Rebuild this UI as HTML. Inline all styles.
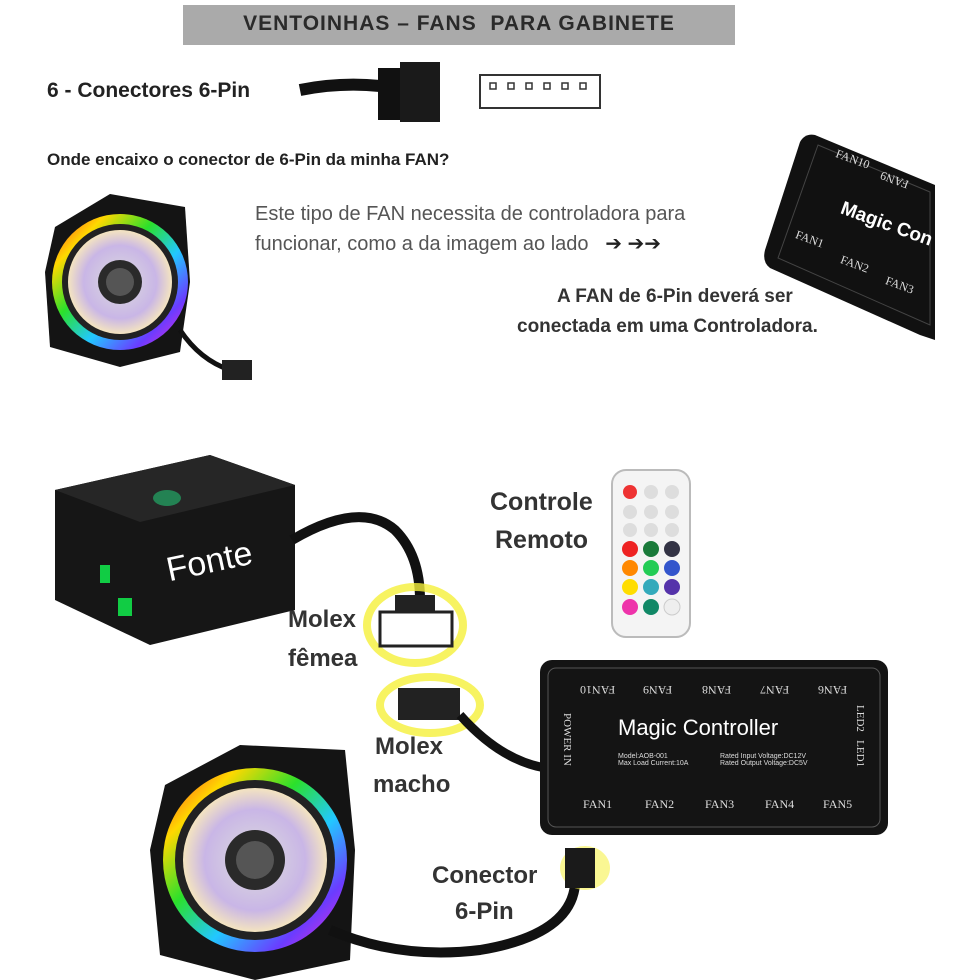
<!DOCTYPE html>
<html><head><meta charset="utf-8"><style>
html,body{margin:0;padding:0;background:#fff;width:980px;height:980px;overflow:hidden;font-family:"Liberation Sans",sans-serif}
.t{position:absolute;white-space:nowrap}
.b{font-weight:bold;color:#333}
.f{position:absolute;font-size:12px;color:#ddd;font-family:"Liberation Serif",serif;white-space:nowrap}
.u{transform:rotate(180deg)}
</style></head><body>
<svg width="980" height="980" style="position:absolute;left:0;top:0">
<defs>
<linearGradient id="rgb" x1="0" y1="0" x2="1" y2="1">
<stop offset="0" stop-color="#ff2a2a"/><stop offset="0.2" stop-color="#ffd800"/><stop offset="0.4" stop-color="#2be02b"/><stop offset="0.6" stop-color="#22c8ff"/><stop offset="0.8" stop-color="#6a3cff"/><stop offset="1" stop-color="#ff2ad4"/>
</linearGradient>
<radialGradient id="inner" cx="0.5" cy="0.5" r="0.5"><stop offset="0" stop-color="#ddd"/><stop offset="0.7" stop-color="#c9b6e6"/><stop offset="1" stop-color="#f4e4c0"/></radialGradient>
</defs>
<rect x="183" y="5" width="552" height="40" fill="#aaa"/>
<path d="M300 90 Q340 82 380 86" stroke="#111" stroke-width="12" fill="none"/>
<rect x="378" y="68" width="22" height="52" fill="#111"/>
<rect x="400" y="62" width="40" height="60" fill="#1a1a1a"/>
<rect x="480" y="75" width="120" height="33" fill="none" stroke="#333" stroke-width="2"/>
<g fill="none" stroke="#333" stroke-width="1.5"><rect x="490" y="83" width="6" height="6"/><rect x="508" y="83" width="6" height="6"/><rect x="526" y="83" width="6" height="6"/><rect x="544" y="83" width="6" height="6"/><rect x="562" y="83" width="6" height="6"/><rect x="580" y="83" width="6" height="6"/></g>
<g transform="translate(120,282)">
<path d="M-65 -55 L-10 -88 L65 -75 L70 0 L60 70 L0 85 L-70 65 L-75 -10Z" fill="#141414"/>
<circle r="68" fill="url(#rgb)"/><circle r="58" fill="#222"/><circle r="52" fill="url(#inner)"/><circle r="22" fill="#2a2a2a"/><circle r="14" fill="#555"/>
</g>
<path d="M180 330 Q200 360 230 370" stroke="#111" stroke-width="5" fill="none"/><rect x="222" y="360" width="30" height="20" fill="#222"/>
<!-- top controller -->
<path d="M815 135 L935 185 L935 340 L920 335 L770 268 Q762 262 765 250 L800 142 Q805 133 815 135Z" fill="#111"/>
<path d="M818 145 L930 192 L930 325 L778 258 Z" fill="none" stroke="#444" stroke-width="1"/>
<path d="M765 795 Z" fill="none"/>
<path d="M55 490 L210 455 L295 485 L295 610 L150 645 L55 600Z" fill="#161616"/>
<path d="M55 490 L210 455 L295 485 L140 522Z" fill="#262626"/>
<ellipse cx="167" cy="498" rx="14" ry="8" fill="#2a6" opacity="0.7"/>
<rect x="100" y="565" width="10" height="18" fill="#1c4"/><rect x="118" y="598" width="14" height="18" fill="#1c4"/>
<path d="M292 540 Q360 500 395 530 Q420 555 420 600" stroke="#111" stroke-width="10" fill="none"/>
<ellipse cx="415" cy="625" rx="48" ry="38" fill="none" stroke="#f5f03a" stroke-width="8" opacity="0.8"/>
<ellipse cx="430" cy="705" rx="50" ry="28" fill="none" stroke="#f5f03a" stroke-width="8" opacity="0.8"/>
<rect x="395" y="595" width="40" height="20" fill="#222"/><rect x="380" y="612" width="72" height="34" fill="#fff" stroke="#222" stroke-width="3"/>
<rect x="398" y="688" width="62" height="32" fill="#222"/>
<path d="M460 715 Q500 760 545 768" stroke="#111" stroke-width="9" fill="none"/>
<rect x="612" y="470" width="78" height="167" rx="14" fill="#f4f4f4" stroke="#bbb" stroke-width="2"/>
<g>
<circle cx="630" cy="492" r="7" fill="#e33"/><circle cx="651" cy="492" r="7" fill="#ddd"/><circle cx="672" cy="492" r="7" fill="#ddd"/>
<circle cx="630" cy="512" r="7" fill="#ddd"/><circle cx="651" cy="512" r="7" fill="#ddd"/><circle cx="672" cy="512" r="7" fill="#ddd"/>
<circle cx="630" cy="530" r="7" fill="#ddd"/><circle cx="651" cy="530" r="7" fill="#ddd"/><circle cx="672" cy="530" r="7" fill="#ddd"/>
<circle cx="630" cy="549" r="8" fill="#e22"/><circle cx="651" cy="549" r="8" fill="#1a7a3a"/><circle cx="672" cy="549" r="8" fill="#334"/>
<circle cx="630" cy="568" r="8" fill="#f80"/><circle cx="651" cy="568" r="8" fill="#2c5"/><circle cx="672" cy="568" r="8" fill="#35c"/>
<circle cx="630" cy="587" r="8" fill="#fd0"/><circle cx="651" cy="587" r="8" fill="#3ab"/><circle cx="672" cy="587" r="8" fill="#53a"/>
<circle cx="630" cy="607" r="8" fill="#e3a"/><circle cx="651" cy="607" r="8" fill="#186"/><circle cx="672" cy="607" r="8" fill="#eee" stroke="#ccc"/>
</g>
<rect x="540" y="660" width="348" height="175" rx="12" fill="#141414"/>
<rect x="548" y="668" width="332" height="159" rx="8" fill="none" stroke="#555" stroke-width="1"/>
<g transform="translate(255,860)">
<path d="M-90 -75 L-15 -115 L90 -110 L100 -10 L95 100 L0 120 L-95 95 L-105 -10Z" fill="#141414"/>
<circle r="92" fill="url(#rgb)"/><circle r="80" fill="#222"/><circle r="72" fill="url(#inner)"/><circle r="30" fill="#2a2a2a"/><circle r="19" fill="#555"/>
</g>
<path d="M330 930 Q400 960 480 950 Q570 935 575 885" stroke="#111" stroke-width="10" fill="none"/>
<ellipse cx="585" cy="868" rx="25" ry="22" fill="#f5f03a" opacity="0.55"/>
<rect x="565" y="848" width="30" height="40" fill="#1a1a1a"/>
</svg>

<div class="t" style="left:183px;top:12px;width:552px;text-align:center;font-size:21px;letter-spacing:1px;color:#2a2a2a;font-weight:bold">VENTOINHAS – FANS &nbsp;PARA GABINETE</div>
<div class="t b" style="left:47px;top:79px;font-size:21px;color:#222">6 - Conectores 6-Pin</div>
<div class="t b" style="left:47px;top:150px;font-size:17px;color:#222">Onde encaixo o conector de 6-Pin da minha FAN?</div>
<div class="t" style="left:255px;top:203px;font-size:20px;color:#555">Este tipo de FAN necessita de controladora para</div>
<div class="t" style="left:255px;top:231px;font-size:20px;color:#555">funcionar, como a da imagem ao lado &nbsp;&nbsp;<span style="color:#222">➔ ➔➔</span></div>
<div class="t b" style="left:557px;top:286px;font-size:19px">A FAN de 6-Pin deverá ser</div>
<div class="t b" style="left:517px;top:316px;font-size:19px">conectada em uma Controladora.</div>
<div class="t" style="left:845px;top:198px;font-size:19px;color:#fff;transform:rotate(20deg);transform-origin:left top;font-weight:bold">Magic Con</div>
<div class="f" style="left:835px;top:152px;transform:rotate(20deg)">FAN10</div>
<div class="f" style="left:880px;top:172px;transform:rotate(200deg)">FAN9</div>
<div class="f" style="left:795px;top:232px;transform:rotate(20deg)">FAN1</div>
<div class="f" style="left:840px;top:257px;transform:rotate(20deg)">FAN2</div>
<div class="f" style="left:885px;top:278px;transform:rotate(20deg)">FAN3</div>
<div class="t" style="left:163px;top:552px;font-size:34px;color:#fff;transform:rotate(-12deg);transform-origin:left top">Fonte</div>
<div class="t b" style="left:490px;top:488px;font-size:25px">Controle</div>
<div class="t b" style="left:495px;top:526px;font-size:25px">Remoto</div>
<div class="t b" style="left:288px;top:606px;font-size:24px">Molex</div>
<div class="t b" style="left:288px;top:645px;font-size:24px">fêmea</div>
<div class="t b" style="left:375px;top:733px;font-size:24px">Molex</div>
<div class="t b" style="left:373px;top:771px;font-size:24px">macho</div>
<div class="t b" style="left:432px;top:862px;font-size:24px">Conector</div>
<div class="t b" style="left:455px;top:898px;font-size:24px">6-Pin</div>
<div class="t" style="left:618px;top:715px;font-size:22px;color:#fff">Magic Controller</div>
<div class="t" style="left:618px;top:753px;font-size:7px;color:#ddd">Model:AOB-001<br>Max Load Current:10A</div>
<div class="t" style="left:720px;top:753px;font-size:7px;color:#ddd">Rated Input Voltage:DC12V<br>Rated Output Voltage:DC5V</div>
<div class="f u" style="left:580px;top:682px">FAN10</div>
<div class="f u" style="left:643px;top:682px">FAN9</div>
<div class="f u" style="left:702px;top:682px">FAN8</div>
<div class="f u" style="left:760px;top:682px">FAN7</div>
<div class="f u" style="left:818px;top:682px">FAN6</div>
<div class="f" style="left:583px;top:797px">FAN1</div>
<div class="f" style="left:645px;top:797px">FAN2</div>
<div class="f" style="left:705px;top:797px">FAN3</div>
<div class="f" style="left:765px;top:797px">FAN4</div>
<div class="f" style="left:823px;top:797px">FAN5</div>
<div class="t" style="left:573px;top:713px;font-size:11px;color:#ddd;font-family:'Liberation Serif',serif;transform:rotate(90deg);transform-origin:left top">POWER IN</div>
<div class="t" style="left:866px;top:705px;font-size:11px;color:#ddd;font-family:'Liberation Serif',serif;transform:rotate(90deg);transform-origin:left top">LED2 &nbsp; LED1</div>
</body></html>
